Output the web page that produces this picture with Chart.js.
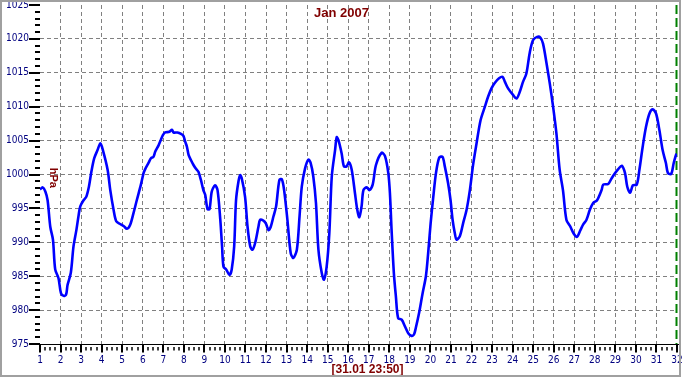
<!DOCTYPE html>
<html>
<head>
<meta charset="utf-8">
<script src="https://cdn.jsdelivr.net/npm/chart.js@4.4.1/dist/chart.umd.min.js"></script>
<style>
  html, body { margin: 0; padding: 0; background: #ffffff; }
  #wrap { width: 682px; height: 380px; }
</style>
</head>
<body>
<div id="wrap"><canvas id="c" width="682" height="380"></canvas></div>
<script>
// ---- data ----
const days = [
  1.0, 1.13, 1.26, 1.37, 1.5, 1.63, 1.74, 1.9, 2.02, 2.15, 2.27, 2.34, 2.5, 2.63, 2.77, 2.88, 2.96,
  3.12, 3.25, 3.38, 3.5, 3.64, 3.8, 3.94, 4.06, 4.29, 4.42, 4.58, 4.71, 4.9, 5.07, 5.23, 5.39, 5.55,
  5.71, 5.91, 6.04, 6.12, 6.28, 6.4, 6.52, 6.61, 6.77, 6.88, 6.98, 7.09, 7.3, 7.42, 7.5, 7.69, 7.86,
  7.98, 8.07, 8.15, 8.23, 8.35, 8.47, 8.6, 8.71, 8.83, 8.95, 9.04, 9.15, 9.25, 9.36, 9.52, 9.64, 9.77,
  9.86, 9.93, 10.06, 10.22, 10.33, 10.45, 10.54, 10.66, 10.74, 10.82, 10.98, 11.1, 11.23, 11.34, 11.47,
  11.63, 11.71, 11.87, 11.99, 12.12, 12.23, 12.36, 12.49, 12.65, 12.77, 12.88, 13.04, 13.2, 13.33, 13.5,
  13.63, 13.74, 13.9, 14.06, 14.17, 14.3, 14.43, 14.55, 14.71, 14.82, 14.95, 15.08, 15.2, 15.36, 15.44,
  15.52, 15.68, 15.79, 15.92, 16.04, 16.17, 16.33, 16.44, 16.54, 16.65, 16.74, 16.9, 17.03, 17.19, 17.35,
  17.63, 17.79, 17.95, 18.03, 18.11, 18.22, 18.32, 18.43, 18.6, 18.76, 18.92, 19.08, 19.2, 19.29, 19.45,
  19.62, 19.78, 19.89, 20.01, 20.14, 20.27, 20.43, 20.59, 20.7, 20.86, 20.98, 21.08, 21.19, 21.27, 21.43,
  21.59, 21.76, 21.92, 22.08, 22.24, 22.44, 22.65, 22.81, 22.97, 23.13, 23.34, 23.51, 23.62, 23.78, 24.03,
  24.19, 24.35, 24.51, 24.67, 24.83, 24.99, 25.19, 25.35, 25.48, 25.65, 25.81, 25.97, 26.13, 26.29, 26.45,
  26.62, 26.81, 26.97, 27.13, 27.3, 27.43, 27.59, 27.76, 27.92, 28.11, 28.33, 28.41, 28.65, 28.81, 28.98,
  29.14, 29.31, 29.47, 29.58, 29.72, 29.85, 30.04, 30.17, 30.33, 30.49, 30.66, 30.82, 30.98, 31.14, 31.3,
  31.46, 31.56, 31.72, 31.84, 31.97
];
const pressure = [
  997.8, 998.1, 997.5, 996.2, 992.3, 990.4, 986.0, 984.7, 982.5, 982.1, 982.3, 983.7, 985.5, 989.4, 991.8, 994.0, 995.3,
  996.2, 996.7, 998.2, 1000.4, 1002.4, 1003.6, 1004.6, 1003.6, 1000.7, 997.7, 994.8, 993.1, 992.7, 992.4, 992.0, 992.6, 994.3,
  996.2, 998.5, 1000.2, 1000.8, 1001.7, 1002.4, 1002.6, 1003.4, 1004.3, 1005.1, 1005.8, 1006.2, 1006.3, 1006.6, 1006.2, 1006.2, 1006.0,
  1005.7, 1004.8, 1004.1, 1002.9, 1002.1, 1001.4, 1000.8, 1000.4, 999.2, 997.7, 997.0, 994.9, 994.9, 997.5, 998.4, 997.7, 993.5,
  989.4, 986.4, 986.0, 985.2, 986.0, 989.4, 996.2, 999.0, 999.9, 999.4, 996.7, 992.3, 989.4, 988.9, 989.9,
  992.3, 993.3, 993.2, 992.8, 991.8, 992.3, 993.8, 995.3, 999.2, 999.3, 997.7, 993.3, 988.4, 987.7, 988.9,
  993.8, 998.2, 1000.9, 1002.2, 1001.7, 999.7, 995.8, 988.9, 985.5, 984.5, 986.4, 991.3, 999.7, 1003.6, 1005.5,
  1005.1, 1003.1, 1001.2, 1001.2, 1001.8, 1000.7, 997.2, 994.8, 993.7, 995.3, 997.7, 998.1, 997.7, 998.5, 1001.4,
  1003.2, 1002.7, 1000.2, 997.2, 991.8, 985.5, 982.0, 978.8, 978.6, 977.6, 976.6, 976.2, 976.4, 977.4, 979.6,
  982.5, 985.0, 988.4, 992.8, 996.7, 1000.2, 1002.5, 1002.6, 1001.2, 998.7, 996.2, 993.3, 991.3, 990.4, 990.9,
  992.8, 994.8, 997.7, 1001.5, 1004.5, 1008.0, 1010.0, 1011.5, 1012.7, 1013.5, 1014.2, 1014.4, 1013.7, 1012.7, 1011.7,
  1011.2, 1012.2, 1013.7, 1014.9, 1017.9, 1019.8, 1020.3, 1020.2, 1019.3, 1016.4, 1013.4, 1010.0, 1006.1, 1000.7, 997.7,
  993.3, 992.3, 991.3, 990.8, 991.8, 992.6, 993.3, 994.8, 995.8, 996.2, 997.7, 998.5, 998.6, 999.4, 1000.2,
  1000.8, 1001.3, 1000.2, 998.2, 997.3, 998.4, 998.5, 1000.7, 1004.1, 1007.0, 1009.0, 1009.6, 1009.0, 1006.6, 1003.6,
  1001.7, 1000.2, 1000.1, 1001.7, 1003.1
];
const xTickDays = [1,2,3,4,5,6,7,8,9,10,11,12,13,14,15,16,17,18,19,20,21,22,23,24,25,26,27,28,29,30,31,32];
const yTickValues = [975, 980, 985, 990, 995, 1000, 1005, 1010, 1015, 1020, 1025];
const titleText = 'Jan 2007';
const xTitleText = '[31.01 23:50]';
const yTitleText = 'hPa';

const X_MIN = 1, X_MAX = 32, Y_MIN = 975, Y_MAX = 1025;
const TICK_FONT = '"Liberation Sans Narrow", "Arial Narrow", "DejaVu Sans Condensed", sans-serif';
const NAVY = '#000080';
const MAROON = '#800000';

const deco = {
  id: 'deco',
  beforeDatasetsDraw(chart) {
    const {ctx, chartArea: a, scales: {x}} = chart;
    const gx = Math.round(x.getPixelForValue(X_MAX)) - 0.5;
    ctx.save();
    ctx.strokeStyle = '#008000';
    ctx.lineWidth = 2;
    ctx.setLineDash([9, 4]);
    ctx.beginPath();
    ctx.moveTo(gx, a.top);
    ctx.lineTo(gx, a.bottom);
    ctx.stroke();
    ctx.restore();
  },
  afterDraw(chart) {
    const {ctx, chartArea: a, scales: {x, y}} = chart;
    ctx.save();
    ctx.strokeStyle = '#000000';
    const ay = Math.round(a.bottom) + 0.5;
    ctx.lineWidth = 1;
    ctx.beginPath();
    ctx.moveTo(a.left - 1, ay);
    ctx.lineTo(a.right + 3, ay);
    ctx.stroke();
    for (let d = X_MIN; d <= X_MAX + 1e-9; d += 0.25) {
      const px = Math.round(x.getPixelForValue(d));
      const major = Math.abs(d - Math.round(d)) < 1e-9;
      ctx.lineWidth = major ? 2 : 1.5;
      ctx.beginPath();
      if (major) { ctx.moveTo(px, ay); ctx.lineTo(px, ay + 8); }
      else { ctx.moveTo(px, ay + 2.5); ctx.lineTo(px, ay + 6); }
      ctx.stroke();
    }
    for (let v = Y_MIN; v <= Y_MAX; v += 1) {
      const py = Math.round(y.getPixelForValue(v));
      const major = v % 5 === 0;
      ctx.lineWidth = 2;
      ctx.beginPath();
      if (major) { ctx.moveTo(a.left - 11, py); ctx.lineTo(a.left, py); }
      else { ctx.moveTo(a.left - 5, py); ctx.lineTo(a.left, py); }
      ctx.stroke();
    }
    ctx.fillStyle = MAROON;
    ctx.textAlign = 'center';
    ctx.textBaseline = 'middle';
    ctx.font = 'bold 13px "Liberation Sans", Arial, sans-serif';
    ctx.fillText(titleText, a.left + (a.right - a.left) / 2 - 17, 13);
    ctx.font = 'bold 12px "Liberation Sans", Arial, sans-serif';
    ctx.fillText(xTitleText, a.left + (a.right - a.left) / 2 + 9, 370);
    ctx.save();
    ctx.translate(a.left + 13, y.getPixelForValue(999.5));
    ctx.rotate(Math.PI / 2);
    ctx.font = 'bold 11px "Liberation Sans", Arial, sans-serif';
    ctx.fillText(yTitleText, 0, 0);
    ctx.restore();
    ctx.strokeStyle = '#a0a0a0';
    ctx.lineWidth = 2;
    ctx.setLineDash([]);
    ctx.strokeRect(1, 1, 679, 375);
    ctx.restore();
  }
};

new Chart(document.getElementById('c'), {
  type: 'line',
  data: {
    datasets: [{
      data: days.map((d, i) => ({x: d, y: pressure[i]})),
      borderColor: '#0000ff',
      borderWidth: 2.6,
      pointRadius: 0,
      tension: 0.3,
      fill: false
    }]
  },
  options: {
    responsive: false,
    animation: false,
    devicePixelRatio: 1,
    layout: {padding: {left: 0, right: 5, top: 5, bottom: 0}},
    plugins: {legend: {display: false}, tooltip: {enabled: false}, title: {display: false}},
    scales: {
      x: {
        type: 'linear',
        min: X_MIN, max: X_MAX,
        afterBuildTicks: s => { s.ticks = xTickDays.map(v => ({value: v})); },
        afterFit: s => { s.height = 36; s.paddingLeft = 0; s.paddingRight = 0; },
        ticks: {autoSkip: false, maxRotation: 0, color: NAVY, padding: 10,
                font: {family: TICK_FONT, size: 10}, callback: v => String(v)},
        grid: {drawTicks: false, lineWidth: 1,
               color: c => (c.tick && c.tick.value > X_MIN && c.tick.value < X_MAX) ? '#808080' : 'rgba(0,0,0,0)'},
        border: {display: false, dash: [4, 3]}
      },
      y: {
        min: Y_MIN, max: Y_MAX,
        afterBuildTicks: s => { s.ticks = yTickValues.map(v => ({value: v})); },
        afterFit: s => { s.width = 40; s.paddingTop = 0; s.paddingBottom = 0; },
        ticks: {autoSkip: false, color: NAVY, padding: 11,
                font: {family: TICK_FONT, size: 10}, callback: v => String(v)},
        grid: {drawTicks: false, lineWidth: 1,
               color: c => (c.tick && c.tick.value > Y_MIN && c.tick.value < Y_MAX) ? '#808080' : 'rgba(0,0,0,0)'},
        border: {display: false, dash: [4, 3]}
      }
    }
  },
  plugins: [deco]
});
</script>
</body>
</html>
